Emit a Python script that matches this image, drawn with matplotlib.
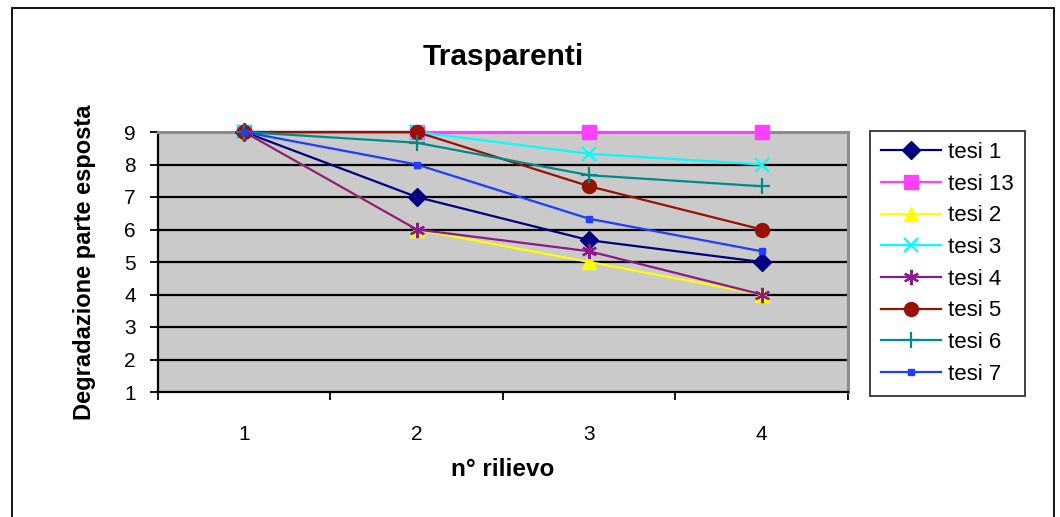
import matplotlib.pyplot as plt
from matplotlib.patches import Rectangle

plt.rcParams['font.family'] = ['Liberation Sans', 'DejaVu Sans']

# data
rilievo = [1, 2, 3, 4]
tesi_1 = [9, 7, 5.67, 5]
tesi_13 = [9, 9, 9, 9]
tesi_2 = [9, 6, 5, 4]
tesi_3 = [9, 9, 8.33, 8]
tesi_4 = [9, 6, 5.33, 4]
tesi_5 = [9, 9, 7.33, 6]
tesi_6 = [9, 8.67, 7.67, 7.33]
tesi_7 = [9, 8, 6.33, 5.33]

series = [
    ('tesi 1', tesi_1, '#000080', 'D', 9),
    ('tesi 13', tesi_13, '#FF40FF', 's', 10),
    ('tesi 2', tesi_2, '#FFFF00', '^', 10),
    ('tesi 3', tesi_3, '#00FFFF', 'x', 10),
    ('tesi 4', tesi_4, '#8B1A8B', (6, 2, 0), 11),
    ('tesi 5', tesi_5, '#991100', 'o', 10),
    ('tesi 6', tesi_6, '#008B8B', '+', 12),
    ('tesi 7', tesi_7, '#1F3CFF', 's', 4),
]

fig = plt.figure(figsize=(10.6, 5.17), dpi=100)
# outer chart frame (bottom edge runs past the image)
fig.patches.append(Rectangle((12 / 1060, -10 / 517), 1042 / 1060, 519 / 517,
                             transform=fig.transFigure, fill=False,
                             edgecolor='black', linewidth=1.3))

ax = fig.add_axes([158 / 1060, 1 - 392 / 517, 690 / 1060, 260 / 517])
ax.set_facecolor('#CACACA')

for y in range(2, 9):
    ax.axhline(y, color='black', linewidth=1.6, zorder=1)

for name, vals, col, mk, ms in series:
    ax.plot(rilievo, vals, color=col, marker=mk, markersize=ms,
            linewidth=1.6, label=name, zorder=3, clip_on=False,
            markeredgewidth=1.6 if mk in ('x', '+', (6, 2, 0)) else 1)

ax.set_xlim(0.5, 4.5)
ax.set_ylim(1, 9)
ax.set_yticks(range(1, 10))
ax.set_xticks(rilievo)
ax.set_xticks([0.5, 1.5, 2.5, 3.5, 4.5], minor=True)
ax.tick_params(axis='x', which='major', length=0, labelsize=15, pad=24)
ax.tick_params(axis='x', which='minor', length=6, width=1.3, direction='out')
ax.tick_params(axis='y', length=6, width=1.3, direction='out', labelsize=15, pad=10)

for s in ['top', 'right']:
    ax.spines[s].set_color('#8C8C8C')
    ax.spines[s].set_linewidth(2.2)
for s in ['left', 'bottom']:
    ax.spines[s].set_color('black')
    ax.spines[s].set_linewidth(1.6)

ax.set_title('Trasparenti', fontsize=21.5, fontweight='bold', pad=48)
ax.set_xlabel('n° rilievo', fontsize=17.5, fontweight='bold', labelpad=10)
ax.set_ylabel('Degradazione parte esposta', fontsize=17, fontweight='bold', labelpad=20)

leg = ax.legend(loc='upper left', bbox_to_anchor=(1.032, 1.004), fontsize=16,
                frameon=True, fancybox=False, edgecolor='black',
                borderpad=0.5, labelspacing=0.48, handlelength=2.7,
                handletextpad=0.3, borderaxespad=0)
leg.get_frame().set_linewidth(1.3)

fig.savefig('out.png', dpi=100)
